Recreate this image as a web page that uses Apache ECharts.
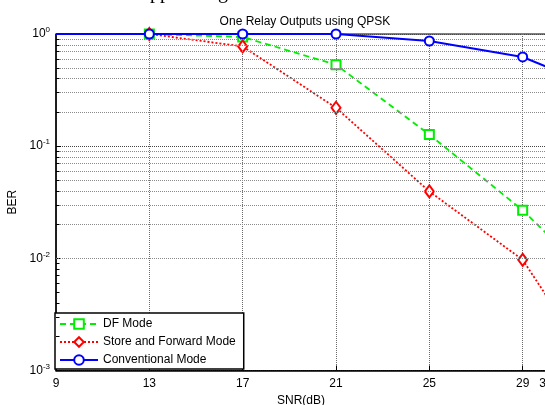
<!DOCTYPE html>
<html>
<head>
<meta charset="utf-8">
<script src="https://cdn.jsdelivr.net/npm/echarts@6/dist/echarts.min.js"></script>
<style>html,body{margin:0;padding:0;background:#fff;}#c{width:545px;height:405px;}</style>
</head>
<body>
<div id="c"></div>
<script>
// ---- data ----
var snr = [9, 13, 17, 21, 25, 29, 33];
var dfMode = [1, 1, 0.94, 0.532, 0.127, 0.0268, 0.0042];
var storeForward = [1, 1, 0.775, 0.220, 0.0395, 0.0097, 0.00053];
var conventional = [1, 1, 1, 1, 0.866, 0.624, 0.285];
var seriesNames = ['DF Mode', 'Store and Forward Mode', 'Conventional Mode'];
var seriesSymbols = ['emptyRect', 'emptyDiamond', 'emptyCircle'];
var minorGridValues = [0.002,0.003,0.004,0.005,0.006,0.007,0.008,0.009,
  0.02,0.03,0.04,0.05,0.06,0.07,0.08,0.09,
  0.2,0.3,0.4,0.5,0.6,0.7,0.8,0.9];
var xMin = 9, xMax = 30, xStep = 4;
var yMin = 0.001, yMax = 1;
var markerStartX = 13; // first SNR point that carries a marker

function points(xs, ys){
  return xs.map(function(x,i){
    var item = {value: [x, ys[i]]};
    if (x < markerStartX) item.symbol = 'none';
    return item;
  });
}

var FONT = 'Liberation Sans';
var chart = echarts.init(document.getElementById('c'), null, {renderer:'canvas'});

var gridMarks = {
  silent: true, symbol: 'none', animation: false,
  label: {show:false},
  lineStyle: {color:'#8a8a8a', type:[1,1], width:1},
  data: minorGridValues.map(function(v){ return {yAxis: v}; })
    .concat(minorGridValues.map(function(v){
      return [{coord:[xMin, v], lineStyle:{color:'#000', type:'solid', width:1}}, {coord:[xMin + 0.15, v]}];
    }))
};

var option = {
  animation: false,
  backgroundColor: '#fff',
  textStyle: {fontFamily: FONT},
  title: {
    text: 'One Relay Outputs using QPSK',
    left: 300, top: 11, textAlign: 'center',
    textStyle: {fontFamily: FONT, fontSize: 12, fontWeight: 'normal', color:'#000'}
  },
  graphic: [
    {type:'text', left:150, top:-17, style:{text:'pp', font:'20px "Liberation Serif"', fill:'#000'}},
    {type:'text', left:218, top:-17, style:{text:'g', font:'20px "Liberation Serif"', fill:'#000'}}
  ],
  grid: {
    left: 56, top: 34, right: -1, bottom: 34.5,
    show: true, borderColor: '#000', borderWidth: 1, backgroundColor: 'transparent',
    containLabel: false, outerBoundsMode: 'none'
  },
  legend: {
    orient: 'vertical',
    left: 55, top: 313,
    padding: [5, 8, 3, 4],
    itemGap: 6,
    itemWidth: 38, itemHeight: 12,
    backgroundColor: '#fff',
    borderColor: '#000', borderWidth: 1.5, borderRadius: 0,
    textStyle: {fontFamily: FONT, fontSize: 12, color:'#000', padding:[0,0,0,0]},
    data: seriesNames
  },
  xAxis: {
    type: 'value', min: xMin, max: xMax, interval: xStep,
    name: 'SNR(dB)', nameLocation: 'middle', nameGap: 21,
    nameTextStyle: {fontFamily: FONT, fontSize: 12, color:'#000'},
    axisLine: {show:true, onZero:false, lineStyle:{color:'#000', width:1.5}},
    axisTick: {show:true, inside:true, length:5, lineStyle:{color:'#000'}},
    axisLabel: {fontFamily: FONT, fontSize: 12, color:'#000', margin: 7, showMaxLabel: true, showMinLabel: true, hideOverlap: false},
    splitLine: {show:true, lineStyle:{color:'#6a6a6a', type:[1,1], width:1}},
    minorTick: {show:false}
  },
  yAxis: {
    type: 'log', logBase: 10, min: yMin, max: yMax,
    name: 'BER', nameLocation: 'middle', nameGap: 31, nameRotate: 90,
    nameTextStyle: {fontFamily: FONT, fontSize: 12, color:'#000'},
    axisLine: {show:true, onZero:false, lineStyle:{color:'#000', width:1.5}},
    axisTick: {show:true, inside:true, length:5, lineStyle:{color:'#000'}},
    axisLabel: {
      fontFamily: FONT, fontSize: 12, color:'#000', margin: 6,
      formatter: function(v){ var e = Math.round(Math.log(v)/Math.LN10); return '10{sup|' + e + '}'; },
      rich: {sup: {fontSize: 8, fontFamily: FONT, color:'#000', verticalAlign:'top', padding:[0,0,8,0]}}
    },
    splitLine: {show:true, lineStyle:{color:'#444', type:[1,1], width:1}}
  },
  series: [
    {
      name: seriesNames[0], type: 'line', data: points(snr, dfMode), smooth: false,
      symbol: seriesSymbols[0], symbolSize: 9, showAllSymbol: true,
      lineStyle: {color:'#00ee00', width:1.8, type:[6,4]},
      itemStyle: {color:'#00ee00', borderWidth:1.8},
      clip: true, z: 3,
      markLine: gridMarks
    },
    {
      name: seriesNames[1], type: 'line', data: points(snr, storeForward), smooth: false,
      symbol: seriesSymbols[1], symbolSize: [9, 12], showAllSymbol: true,
      lineStyle: {color:'#ff0000', width:1.8, type:[2,2]},
      itemStyle: {color:'#ff0000', borderWidth:1.8},
      clip: true, z: 4
    },
    {
      name: seriesNames[2], type: 'line', data: points(snr, conventional), smooth: false,
      symbol: seriesSymbols[2], symbolSize: 9, showAllSymbol: true,
      lineStyle: {color:'#0000ff', width:2},
      itemStyle: {color:'#0000ff', borderWidth:1.8},
      clip: true, z: 5
    }
  ]
};
chart.setOption(option);
</script>
</body>
</html>
